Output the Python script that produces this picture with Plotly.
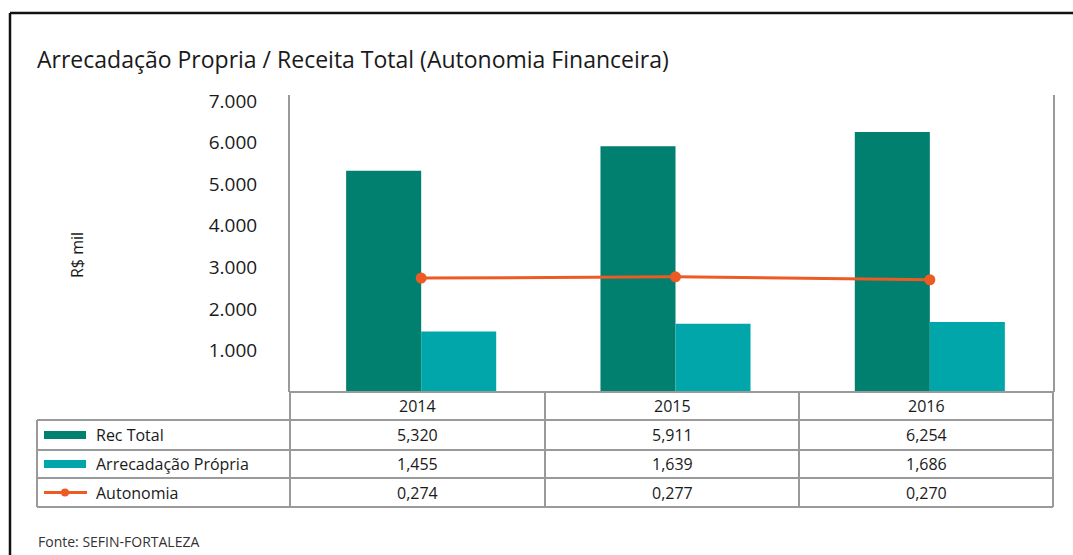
import plotly.graph_objects as go

# ---- data ----
years = ["2014", "2015", "2016"]
rec_total = [5320, 5911, 6254]
arrec_propria = [1455, 1639, 1686]
autonomia = [0.274, 0.277, 0.270]
tick_vals = [1000, 2000, 3000, 4000, 5000, 6000, 7000]
tick_text = ["1.000", "2.000", "3.000", "4.000", "5.000", "6.000", "7.000"]
series_names = ["Rec Total", "Arrecadação Própria", "Autonomia"]

W, H = 1073, 555
C_DARK = "#017F6F"
C_LIGHT = "#00A6A9"
C_LINE = "#EE5A24"
GRID = "#9A9A9A"
FONT = "Open Sans"
TXT = "#1a1a1a"


def px(x):
    return x / W


def py(y):
    return 1 - y / H


fig = go.Figure()
fig.add_bar(x=years, y=rec_total, name=series_names[0], marker_color=C_DARK,
            marker_line_width=0)
fig.add_bar(x=years, y=arrec_propria, name=series_names[1], marker_color=C_LIGHT,
            marker_line_width=0)
fig.add_scatter(x=years, y=autonomia, name=series_names[2], yaxis="y2",
                mode="lines+markers", line=dict(color=C_LINE, width=3),
                marker=dict(color=C_LINE, size=11))

X0, X1, Y0, Y1 = 290, 1053, 392, 95
top_val = 7000 * (Y0 - Y1) / (Y0 - 101)
shift = -4 / ((X1 - X0) / 3)

fig.update_layout(
    width=W, height=H, margin=dict(l=0, r=0, t=0, b=0, autoexpand=False),
    paper_bgcolor="white", plot_bgcolor="white",
    showlegend=False, barmode="group", bargap=0.41, bargroupgap=0,
    font=dict(family=FONT, color=TXT),
    xaxis=dict(domain=[px(X0), px(X1)], showticklabels=False, showgrid=False,
               zeroline=False, showline=False, ticks="", automargin=False,
               range=[-0.5 + shift, 2.5 + shift]),
    yaxis=dict(domain=[py(Y0), py(Y1)], range=[0, top_val], tickvals=tick_vals,
               ticktext=tick_text, showgrid=False, zeroline=False,
               showline=True, linecolor=GRID, linewidth=2, ticks="",
               automargin=False,
               ticklabelstandoff=27, tickfont=dict(size=19, color=TXT)),
    yaxis2=dict(overlaying="y", side="right", range=[0, top_val / 10000],
                showticklabels=False, showgrid=False, zeroline=False,
                automargin=False,
                showline=True, linecolor=GRID, linewidth=2, ticks=""),
)

shapes = []
ann = []


def hline(x0, x1, y, color=GRID, w=2):
    shapes.append(dict(type="line", xref="paper", yref="paper", x0=px(x0), x1=px(x1),
                       y0=py(y), y1=py(y), line=dict(color=color, width=w)))


def vline(x, y0, y1, color=GRID, w=2):
    shapes.append(dict(type="line", xref="paper", yref="paper", x0=px(x), x1=px(x),
                       y0=py(y0), y1=py(y1), line=dict(color=color, width=w)))


# outer frame
hline(10, W, 13, color="#111111", w=2.5)
vline(10, 13, H, color="#111111", w=2.5)

# table grid
row_y = [392, 420, 450, 478, 507]
col_x = [290, 545, 799, 1053]
hline(290, 1053, row_y[0])
for y in row_y[1:]:
    hline(37, 1053, y)
vline(37, row_y[1], row_y[-1])
for x in col_x:
    vline(x, row_y[0], row_y[-1])

# legend swatches
row_centers = [(row_y[i] + row_y[i + 1]) / 2 for i in range(4)]
for color, yc in [(C_DARK, row_centers[1]), (C_LIGHT, row_centers[2])]:
    shapes.append(dict(type="rect", xref="paper", yref="paper", x0=px(44), x1=px(86),
                       y0=py(yc + 4), y1=py(yc - 4), fillcolor=color, line_width=0))
shapes.append(dict(type="line", xref="paper", yref="paper", x0=px(44), x1=px(87),
                   y0=py(row_centers[3]), y1=py(row_centers[3]),
                   line=dict(color=C_LINE, width=3)))
shapes.append(dict(type="circle", xref="paper", yref="paper", x0=px(61), x1=px(69),
                   y0=py(row_centers[3] + 4), y1=py(row_centers[3] - 4),
                   fillcolor=C_LINE, line_width=0))

for i, name in enumerate(series_names):
    ann.append(dict(xref="paper", yref="paper", x=px(94), y=py(row_centers[i + 1]),
                    text=name, showarrow=False, xanchor="left", yanchor="middle",
                    font=dict(size=16, color=TXT)))

rows_vals = [
    [f"{v:,}" for v in rec_total],
    [f"{v:,}" for v in arrec_propria],
    [f"{v:.3f}".replace(".", ",") for v in autonomia],
]
for j, yr in enumerate(years):
    xc = (col_x[j] + col_x[j + 1]) / 2
    ann.append(dict(xref="paper", yref="paper", x=px(xc), y=py(row_centers[0]),
                    text=yr, showarrow=False, xanchor="center", yanchor="middle",
                    font=dict(size=16, color=TXT)))
    for r in range(3):
        ann.append(dict(xref="paper", yref="paper", x=px(xc), y=py(row_centers[r + 1]),
                        text=rows_vals[r][j], showarrow=False, xanchor="center",
                        yanchor="middle", font=dict(size=16, color=TXT)))

# title, y-axis title, source
ann.append(dict(xref="paper", yref="paper", x=px(35), y=py(59),
                text="Arrecadação Propria / Receita Total (Autonomia Financeira)",
                showarrow=False, xanchor="left", yanchor="middle",
                font=dict(size=23, color=TXT)))
ann.append(dict(xref="paper", yref="paper", x=px(77), y=py(255), text="R$ mil",
                textangle=-90, showarrow=False, xanchor="center", yanchor="middle",
                font=dict(size=16, color=TXT)))
ann.append(dict(xref="paper", yref="paper", x=px(36), y=py(541),
                text="Fonte: SEFIN-FORTALEZA", showarrow=False, xanchor="left",
                yanchor="middle", font=dict(size=14, color="#333333")))

fig.update_layout(shapes=shapes, annotations=ann)
fig.write_html(
    "out.html",
    config={"displayModeBar": False},
    post_script="document.body.style.margin='0';document.body.style.overflow='hidden';",
)
